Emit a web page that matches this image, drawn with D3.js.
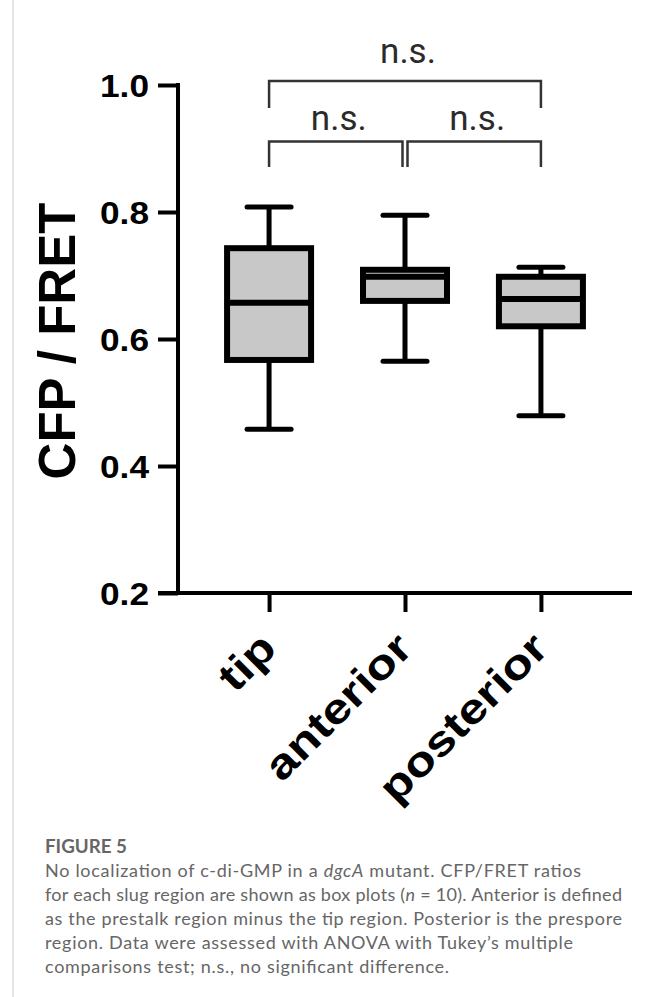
<!DOCTYPE html>
<html>
<head>
<meta charset="utf-8">
<script src="https://cdn.jsdelivr.net/npm/d3@7"></script>
<style>
  body { margin: 0; background: #fff; }
  svg { display: block; }
</style>
</head>
<body>
<div id="chart"></div>
<script>
// box plot values (CFP / FRET)
var regions = ["tip", "anterior", "posterior"];
var whiskerMin = [0.458, 0.565, 0.479];
var quart1 = [0.567, 0.660, 0.620];
var medians = [0.657, 0.698, 0.663];
var quart3 = [0.743, 0.709, 0.698];
var whiskerMax = [0.808, 0.795, 0.713];
var yTicks = [0.2, 0.4, 0.6, 0.8, 1.0];

// pairwise comparisons (Tukey) shown as brackets
var compareFrom = ["tip", "tip", "anterior"];
var compareTo = ["posterior", "anterior", "posterior"];
var compareLabel = ["n.s.", "n.s.", "n.s."];
var compareLevel = [0, 1, 1];

var captionLines = [
  "No localization of c-di-GMP in a |dgcA| mutant. CFP/FRET ratios",
  "for each slug region are shown as box plots (|n| = 10). Anterior is defined",
  "as the prestalk region minus the tip region. Posterior is the prespore",
  "region. Data were assessed with ANOVA with Tukey\u2019s multiple",
  "comparisons test; n.s., no significant difference."
];
var captionEnds = [581, 622, 622, 573, 449];

var W = 654, H = 997;

var svg = d3.select("#chart").append("svg")
  .attr("width", W)
  .attr("height", H);

svg.append("rect").attr("width", W).attr("height", H).attr("fill", "#fff");

// thin grey rule at the left edge of the page
svg.append("line")
  .attr("x1", 13).attr("x2", 13)
  .attr("y1", 0).attr("y2", H)
  .attr("stroke", "#d4d4d4").attr("stroke-width", 1.2);

var x = d3.scalePoint()
  .domain(regions)
  .range([178, 632])
  .padding(0.67);

var y = d3.scaleLinear()
  .domain([0.2, 1.0])
  .range([593, 85]);

var boxData = regions.map(function (r, i) {
  return {name: r, min: whiskerMin[i], q1: quart1[i], med: medians[i], q3: quart3[i], max: whiskerMax[i]};
});

//----------------------- axes -----------------------
var yAxis = svg.append("g")
  .attr("transform", "translate(178,0)")
  .call(d3.axisLeft(y).tickValues(yTicks).tickFormat(d3.format(".1f")).tickSize(20).tickPadding(9));

yAxis.select(".domain").remove();
yAxis.selectAll(".tick line").attr("stroke", "#000").attr("stroke-width", 4);
yAxis.selectAll(".tick text")
  .attr("fill", "#000")
  .style("font-family", "'Liberation Sans', Arial, sans-serif")
  .style("font-weight", "bold")
  .style("font-size", "32px")
  .attr("textLength", 49)
  .attr("lengthAdjust", "spacingAndGlyphs")
  .attr("dy", "0.36em");

// y axis spine
svg.append("line")
  .attr("x1", 178).attr("x2", 178)
  .attr("y1", y(1.0) - 2).attr("y2", y(0.2) + 2)
  .attr("stroke", "#000").attr("stroke-width", 4);

// x axis spine
svg.append("line")
  .attr("x1", 158).attr("x2", 632)
  .attr("y1", y(0.2)).attr("y2", y(0.2))
  .attr("stroke", "#000").attr("stroke-width", 4);

var xAxis = svg.append("g")
  .attr("transform", "translate(0," + y(0.2) + ")")
  .call(d3.axisBottom(x).tickSize(19).tickFormat(""));
xAxis.select(".domain").remove();
xAxis.selectAll(".tick line").attr("stroke", "#000").attr("stroke-width", 4);

// rotated category labels (wide lettering in the original)
svg.selectAll(".xlab")
  .data(regions).enter()
  .append("text")
  .attr("class", "xlab")
  .attr("transform", function (d) {
    return "translate(" + (x(d) + 9.5) + ",650.5) rotate(-45)";
  })
  .attr("text-anchor", "end")
  .style("font-family", "'Liberation Sans', Arial, sans-serif")
  .style("font-weight", "bold")
  .style("font-size", "42px")
  .text(function (d) { return d; })
  .each(function () {
    var len = this.getComputedTextLength();
    d3.select(this).attr("textLength", len * 1.2).attr("lengthAdjust", "spacingAndGlyphs");
  });

// y axis title
svg.append("text")
  .attr("transform", "translate(75," + 341 + ") rotate(-90)")
  .attr("text-anchor", "middle")
  .style("font-family", "'Liberation Sans', Arial, sans-serif")
  .style("font-weight", "bold")
  .style("font-size", "51px")
  .text("CFP / FRET");

//----------------------- boxes -----------------------
var boxHalf = 42, capHalf = 22;

var g = svg.selectAll(".box")
  .data(boxData).enter()
  .append("g")
  .attr("class", "box");

// whisker stems
g.append("line")
  .attr("x1", function (d) { return x(d.name); })
  .attr("x2", function (d) { return x(d.name); })
  .attr("y1", function (d) { return y(d.max); })
  .attr("y2", function (d) { return y(d.min); })
  .attr("stroke", "#000").attr("stroke-width", 5);

// whisker caps
["max", "min"].forEach(function (k) {
  g.append("line")
    .attr("x1", function (d) { return x(d.name) - capHalf; })
    .attr("x2", function (d) { return x(d.name) + capHalf; })
    .attr("y1", function (d) { return y(d[k]); })
    .attr("y2", function (d) { return y(d[k]); })
    .attr("stroke", "#000").attr("stroke-width", 5)
    .attr("stroke-linecap", "round");
});

g.append("rect")
  .attr("x", function (d) { return x(d.name) - boxHalf; })
  .attr("width", boxHalf * 2)
  .attr("y", function (d) { return y(d.q3); })
  .attr("height", function (d) { return y(d.q1) - y(d.q3); })
  .attr("fill", "#c8c8c8")
  .attr("stroke", "#000").attr("stroke-width", 6);

g.append("line")
  .attr("x1", function (d) { return x(d.name) - boxHalf; })
  .attr("x2", function (d) { return x(d.name) + boxHalf; })
  .attr("y1", function (d) { return y(d.med); })
  .attr("y2", function (d) { return y(d.med); })
  .attr("stroke", "#000").attr("stroke-width", 6);

//----------------------- significance brackets -----------------------
var barY = [81, 141.5], legY = [108, 167], textY = [62.5, 130];

compareFrom.forEach(function (a, i) {
  var lv = compareLevel[i];
  var x1 = x(a), x2 = x(compareTo[i]);
  // split the lower brackets where they meet at the middle box
  if (lv === 1 && a === "anterior") x1 += 2.5;
  if (lv === 1 && compareTo[i] === "anterior") x2 -= 2.5;
  svg.append("path")
    .attr("d", "M" + x1 + "," + legY[lv] + "V" + barY[lv] + "H" + x2 + "V" + legY[lv])
    .attr("fill", "none")
    .attr("stroke", "#333").attr("stroke-width", 2.5);
  svg.append("text")
    .attr("x", (x1 + x2) / 2 + 3)
    .attr("y", textY[lv])
    .attr("text-anchor", "middle")
    .attr("fill", "#2b2b2b")
    .style("font-family", "Roboto, sans-serif")
    .style("font-size", "35px")
    .text(compareLabel[i]);
});

//----------------------- caption -----------------------
var cap = svg.append("g").style("font-family", "Lato, 'Open Sans', sans-serif").attr("fill", "#666");

cap.append("text")
  .attr("x", 45).attr("y", 853)
  .style("font-size", "18px")
  .style("font-weight", "bold")
  .attr("textLength", 82)
  .attr("lengthAdjust", "spacingAndGlyphs")
  .text("FIGURE 5");

captionLines.forEach(function (line, i) {
  var t = cap.append("text")
    .attr("x", 45).attr("y", 877 + i * 24)
    .style("font-size", "18px")
    .attr("textLength", captionEnds[i] - 45)
    .attr("lengthAdjust", "spacing");
  // pieces between bars are italic
  line.split("|").forEach(function (part, j) {
    t.append("tspan")
      .style("font-style", j % 2 ? "italic" : "normal")
      .text(part);
  });
});
</script>
</body>
</html>
